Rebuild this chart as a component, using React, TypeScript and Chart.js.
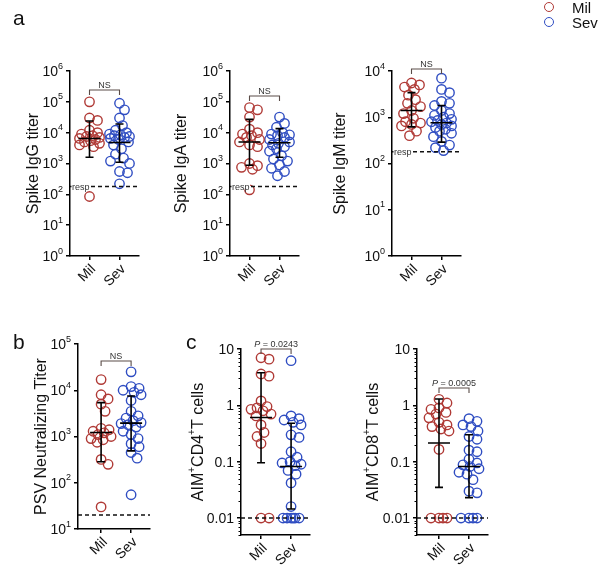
import { useEffect, useRef } from "react";
import { Chart, registerables } from "chart.js";

Chart.register(...registerables);

const FONT = '"Liberation Sans", Arial, Helvetica, sans-serif';
const RED = "#b03a36";
const BLUE = "#2f4dc2";

const groups = ["Mil", "Sev"];

// Spike IgG titer
const iggMil = [100000, 30000, 25000, 12000, 10000, 9000, 8000, 7500, 7000, 6500, 6000, 5500, 5000, 4500, 4000, 3500, 85];
const iggSev = [90000, 55000, 30000, 17000, 12000, 10000, 9000, 8500, 8000, 7500, 7000, 6500, 6000, 5000, 4000, 3000, 2000, 1500, 1200, 1000, 550, 500, 220];
const iggCenter = [6500, 4800];
const iggLow = [1600, 1100];
const iggHigh = [24000, 19000];

// Spike IgA titer
const igaMil = [65000, 55000, 32000, 13000, 10000, 9000, 8000, 7000, 6000, 5000, 4000, 3500, 1000, 850, 750, 650, 140];
const igaSev = [32000, 20000, 15000, 10000, 9000, 8500, 8000, 7000, 6000, 5000, 4500, 4000, 3500, 3000, 2500, 1800, 1400, 1200, 900, 700, 550, 400];
const igaCenter = [5000, 4700];
const igaLow = [880, 1600];
const igaHigh = [27000, 13500];

// Spike IgM titer
const igmMil = [5500, 5000, 4500, 4000, 3000, 2400, 2000, 1700, 1400, 1200, 950, 800, 750, 700, 650, 500, 400];
const igmSev = [7000, 4000, 3400, 2200, 2000, 1800, 1400, 1200, 1100, 1000, 900, 850, 800, 750, 700, 650, 600, 550, 500, 450, 380, 300, 250, 220, 190];
const igmCenter = [1400, 760];
const igmLow = [620, 290];
const igmHigh = [3400, 1800];

// PSV neutralizing titer
const psvMil = [17000, 8000, 6500, 5000, 3500, 1500, 1400, 1300, 1200, 1100, 1000, 900, 850, 750, 320, 250, 30];
const psvSev = [25000, 12000, 11000, 10000, 9000, 8000, 6000, 3500, 2800, 2500, 2200, 2000, 1900, 1800, 1600, 1300, 1100, 900, 700, 600, 450, 340, 55];
const psvCenter = [1220, 1950];
const psvLow = [285, 490];
const psvHigh = [5400, 7500];

// AIM+ CD4+ T cells
const cd4Mil = [7, 6.6, 3.6, 3.3, 1.2, 0.95, 0.9, 0.85, 0.8, 0.7, 0.65, 0.45, 0.33, 0.28, 0.21, 0.01, 0.01];
const cd4Sev = [6.2, 0.65, 0.58, 0.55, 0.5, 0.45, 0.3, 0.27, 0.15, 0.12, 0.1, 0.095, 0.09, 0.085, 0.07, 0.06, 0.042, 0.016, 0.01, 0.01, 0.01, 0.01, 0.01, 0.01];
const cd4Center = [0.61, 0.082];
const cd4Low = [0.096, 0.0145];
const cd4High = [3.8, 0.48];

// AIM+ CD8+ T cells
const cd8Mil = [1.28, 1.1, 0.9, 0.85, 0.75, 0.7, 0.6, 0.5, 0.45, 0.42, 0.38, 0.35, 0.165, 0.01, 0.01, 0.01, 0.01];
const cd8Sev = [0.58, 0.52, 0.45, 0.42, 0.35, 0.28, 0.25, 0.16, 0.15, 0.11, 0.095, 0.088, 0.082, 0.075, 0.065, 0.06, 0.048, 0.03, 0.028, 0.01, 0.01, 0.01, 0.01];
const cd8Center = [0.215, 0.082];
const cd8Low = [0.035, 0.023];
const cd8High = [1.3, 0.3];

// thresholds
const respCutoff = 180;
const psvCutoff = 20;
const cellCutoff = 0.01;

// axis ticks
const titerTicks6 = [1, 10, 100, 1000, 10000, 100000, 1000000];
const titerTicks4 = [1, 10, 100, 1000, 10000];
const psvTicks = [10, 100, 1000, 10000, 100000];
const cellTicks = [0.01, 0.1, 1, 10];
const cellTickLabels = ["0.01", "0.1", "1", "10"];

type Seg = [string, boolean];

type Panel = {
  title: Seg[];
  titleSize: number;
  titleX: number;
  mil: number[];
  sev: number[];
  center: number[];
  low: number[];
  high: number[];
  cutoff: number;
  cutoffLabel?: string;
  yMin: number;
  yMax: number;
  yTicks: number[];
  yTickLabels?: string[];
  minor: boolean;
  note: string;
  italicP: boolean;
  bracketDy: number;
  axisX: number;
  axisEnd: number;
  top: number;
  bottom: number;
  xMin: number;
  xMax: number;
};

const panels: Panel[] = [
  {
    title: [["Spike IgG titer", false]], titleSize: 16, titleX: 34,
    mil: iggMil, sev: iggSev, center: iggCenter, low: iggLow, high: iggHigh,
    cutoff: respCutoff, cutoffLabel: "resp",
    yMin: 1, yMax: 1e6, yTicks: titerTicks6, minor: false,
    note: "NS", italicP: false, bracketDy: 19,
    axisX: 70, axisEnd: 139, top: 71, bottom: 256, xMin: 0.35, xMax: 2.65,
  },
  {
    title: [["Spike IgA titer", false]], titleSize: 16, titleX: 182,
    mil: igaMil, sev: igaSev, center: igaCenter, low: igaLow, high: igaHigh,
    cutoff: respCutoff, cutoffLabel: "resp",
    yMin: 1, yMax: 1e6, yTicks: titerTicks6, minor: false,
    note: "NS", italicP: false, bracketDy: 25,
    axisX: 230, axisEnd: 299, top: 71, bottom: 256, xMin: 0.35, xMax: 2.65,
  },
  {
    title: [["Spike IgM titer", false]], titleSize: 16, titleX: 341,
    mil: igmMil, sev: igmSev, center: igmCenter, low: igmLow, high: igmHigh,
    cutoff: respCutoff, cutoffLabel: "resp",
    yMin: 1, yMax: 1e4, yTicks: titerTicks4, minor: false,
    note: "NS", italicP: false, bracketDy: -2,
    axisX: 392, axisEnd: 461, top: 71, bottom: 256, xMin: 0.35, xMax: 2.65,
  },
  {
    title: [["PSV Neutralizing Titer", false]], titleSize: 16, titleX: 42,
    mil: psvMil, sev: psvSev, center: psvCenter, low: psvLow, high: psvHigh,
    cutoff: psvCutoff,
    yMin: 10, yMax: 1e5, yTicks: psvTicks, minor: false,
    note: "NS", italicP: false, bracketDy: 17,
    axisX: 78, axisEnd: 150, top: 344, bottom: 529, xMin: 0.23, xMax: 2.63,
  },
  {
    title: [["AIM", false], ["+", true], ["CD4", false], ["+", true], ["T cells", false]],
    titleSize: 16, titleX: 199,
    mil: cd4Mil, sev: cd4Sev, center: cd4Center, low: cd4Low, high: cd4High,
    cutoff: cellCutoff,
    yMin: 0.005, yMax: 10, yTicks: cellTicks, yTickLabels: cellTickLabels, minor: true,
    note: " = 0.0243", italicP: true, bracketDy: 0,
    axisX: 241, axisEnd: 310, top: 349, bottom: 535, xMin: 0.333, xMax: 2.63,
  },
  {
    title: [["AIM", false], ["+", true], ["CD8", false], ["+", true], ["T cells", false]],
    titleSize: 16, titleX: 374,
    mil: cd8Mil, sev: cd8Sev, center: cd8Center, low: cd8Low, high: cd8High,
    cutoff: cellCutoff,
    yMin: 0.005, yMax: 10, yTicks: cellTicks, yTickLabels: cellTickLabels, minor: true,
    note: " = 0.0005", italicP: true, bracketDy: 39,
    axisX: 417, axisEnd: 488, top: 349, bottom: 535, xMin: 0.267, xMax: 2.633,
  },
];

const W = 600;
const H = 569;
const TICK = 4;

// draws a run of text pieces, superscript pieces smaller and raised
function drawRich(ctx: CanvasRenderingContext2D, segs: Seg[], size: number, align: "left" | "center" | "right") {
  const supSize = Math.round(size * 0.62);
  const widths = segs.map(([t, sup]) => {
    ctx.font = `${sup ? supSize : size}px ${FONT}`;
    return ctx.measureText(t).width;
  });
  const total = widths.reduce((a, b) => a + b, 0);
  let x = align === "left" ? 0 : align === "center" ? -total / 2 : -total;
  ctx.textAlign = "left";
  ctx.textBaseline = "middle";
  segs.forEach(([t, sup], i) => {
    ctx.font = `${sup ? supSize : size}px ${FONT}`;
    ctx.fillText(t, x, sup ? -size * 0.42 : 0);
    x += widths[i];
  });
}

// spreads points sideways so circles overlap less (beeswarm)
function swarm(values: number[], toPx: (v: number) => number, pxPerUnit: number, center: number) {
  const order = values.map((_, i) => i).sort((a, b) => values[b] - values[a]);
  const placed: { x: number; y: number }[] = [];
  const out: number[] = new Array(values.length);
  const minD = 8;
  const maxOff = 10;
  for (const i of order) {
    const py = toPx(values[i]);
    let best = 0;
    let bestScore = -1;
    for (let k = 0; k <= maxOff * 2; k++) {
      const off = k % 2 === 1 ? (k + 1) / 2 : -k / 2;
      let dmin = Infinity;
      for (const q of placed) dmin = Math.min(dmin, Math.hypot(q.x - off, q.y - py));
      if (dmin >= minD) {
        best = off;
        break;
      }
      if (dmin > bestScore) {
        bestScore = dmin;
        best = off;
      }
    }
    placed.push({ x: best, y: py });
    out[i] = center + best / pxPerUnit;
  }
  return out;
}

function decor(p: Panel) {
  return {
    id: "panelDecor",
    afterDatasetsDraw(chart: any) {
      const { ctx, chartArea } = chart;
      const xs = chart.scales.x;
      const ys = chart.scales.y;
      ctx.save();
      // cutoff line
      const ty = ys.getPixelForValue(p.cutoff);
      ctx.strokeStyle = "#111";
      ctx.lineWidth = 1.5;
      ctx.setLineDash([4, 3]);
      ctx.beginPath();
      ctx.moveTo(chartArea.left, ty);
      ctx.lineTo(chartArea.right, ty);
      ctx.stroke();
      ctx.setLineDash([]);
      if (p.cutoffLabel) {
        ctx.font = `9px ${FONT}`;
        const w = ctx.measureText(p.cutoffLabel).width;
        ctx.fillStyle = "#fff";
        ctx.fillRect(chartArea.left + 1.5, ty - 4, w + 1, 7);
        ctx.fillStyle = "#333";
        ctx.textAlign = "left";
        ctx.textBaseline = "middle";
        ctx.fillText(p.cutoffLabel, chartArea.left + 2, ty + 1);
      }
      // centre line with error bars
      ctx.strokeStyle = "#000";
      ctx.lineWidth = 1.6;
      for (let i = 0; i < 2; i++) {
        const cx = xs.getPixelForValue(i + 1);
        const yc = ys.getPixelForValue(p.center[i]);
        const yl = ys.getPixelForValue(p.low[i]);
        const yh = ys.getPixelForValue(p.high[i]);
        ctx.beginPath();
        ctx.moveTo(cx - 11, yc);
        ctx.lineTo(cx + 11, yc);
        ctx.moveTo(cx, yl);
        ctx.lineTo(cx, yh);
        ctx.moveTo(cx - 4, yl);
        ctx.lineTo(cx + 4, yl);
        ctx.moveTo(cx - 4, yh);
        ctx.lineTo(cx + 4, yh);
        ctx.stroke();
      }
      ctx.restore();
    },
    afterDraw(chart: any) {
      const { ctx, chartArea } = chart;
      const xs = chart.scales.x;
      const ys = chart.scales.y;
      ctx.save();
      ctx.fillStyle = "#111";
      // y tick labels
      p.yTicks.forEach((v, i) => {
        const y = ys.getPixelForValue(v);
        ctx.save();
        ctx.translate(chartArea.left - TICK - 3, y + 1);
        if (p.yTickLabels) {
          drawRich(ctx, [[p.yTickLabels[i], false]], 14, "right");
        } else {
          drawRich(ctx, [["10", false], [String(Math.round(Math.log10(v))), true]], 14, "right");
        }
        ctx.restore();
      });
      // minor log ticks
      if (p.minor) {
        ctx.strokeStyle = "#000";
        ctx.lineWidth = 1;
        ctx.beginPath();
        for (let d = -4; d <= 1; d++) {
          for (let k = 2; k <= 9; k++) {
            const v = k * Math.pow(10, d);
            if (v < p.yMin || v > p.yMax) continue;
            const y = Math.round(ys.getPixelForValue(v)) + 0.5;
            ctx.moveTo(chartArea.left - 2.5, y);
            ctx.lineTo(chartArea.left, y);
          }
        }
        ctx.stroke();
      }
      // category labels, slanted
      groups.forEach((g, i) => {
        const cx = xs.getPixelForValue(i + 1);
        ctx.save();
        ctx.translate(cx + 4, chartArea.bottom + 11);
        ctx.rotate(-Math.PI / 4);
        drawRich(ctx, [[g, false]], 14, "right");
        ctx.restore();
      });
      // axis title
      ctx.save();
      ctx.translate(p.titleX, (chartArea.top + chartArea.bottom) / 2);
      ctx.rotate(-Math.PI / 2);
      drawRich(ctx, p.title, p.titleSize, "center");
      ctx.restore();
      // comparison bracket
      const x1 = xs.getPixelForValue(1);
      const x2 = xs.getPixelForValue(2);
      const by = chartArea.top + p.bracketDy;
      ctx.strokeStyle = "#5a4c48";
      ctx.lineWidth = 1.1;
      ctx.beginPath();
      ctx.moveTo(x1, by + 5);
      ctx.lineTo(x1, by);
      ctx.lineTo(x2, by);
      ctx.lineTo(x2, by + 5);
      ctx.stroke();
      ctx.fillStyle = "#333";
      ctx.textBaseline = "alphabetic";
      const mid = (x1 + x2) / 2;
      if (p.italicP) {
        ctx.font = `italic 9px ${FONT}`;
        const wp = ctx.measureText("P").width;
        ctx.font = `9px ${FONT}`;
        const wr = ctx.measureText(p.note).width;
        const start = mid - (wp + wr) / 2;
        ctx.textAlign = "left";
        ctx.font = `italic 9px ${FONT}`;
        ctx.fillText("P", start, by - 2);
        ctx.font = `9px ${FONT}`;
        ctx.fillText(p.note, start + wp, by - 2);
      } else {
        ctx.font = `9px ${FONT}`;
        ctx.textAlign = "center";
        ctx.fillText(p.note, mid, by - 2);
      }
      ctx.restore();
    },
  };
}

function makeConfig(p: Panel): any {
  return {
    type: "scatter",
    data: {
      datasets: [
        { label: groups[0], data: p.mil.map((v) => ({ x: 1, y: v })), borderColor: RED },
        { label: groups[1], data: p.sev.map((v) => ({ x: 2, y: v })), borderColor: BLUE },
      ].map((d) => ({
        ...d,
        backgroundColor: "rgba(0,0,0,0)",
        pointRadius: 4.7,
        pointBorderWidth: 1.4,
        pointStyle: "circle",
        clip: false,
      })),
    },
    options: {
      responsive: false,
      animation: false,
      events: [],
      devicePixelRatio: 1,
      layout: {
        autoPadding: false,
        padding: {
          left: p.axisX - TICK,
          right: W - p.axisEnd,
          top: p.top,
          bottom: H - p.bottom - TICK,
        },
      },
      plugins: { legend: { display: false }, tooltip: { enabled: false } },
      scales: {
        x: {
          type: "linear",
          min: p.xMin,
          max: p.xMax,
          afterBuildTicks: (s: any) => {
            s.ticks = [{ value: 1 }, { value: 2 }];
          },
          ticks: { display: false },
          grid: { drawOnChartArea: false, drawTicks: true, tickLength: TICK, color: "#000", lineWidth: 1.5 },
          border: { display: true, color: "#000", width: 1.5 },
        },
        y: {
          type: "logarithmic",
          min: p.yMin,
          max: p.yMax,
          afterBuildTicks: (s: any) => {
            s.ticks = p.yTicks.map((v) => ({ value: v, major: true }));
          },
          ticks: { display: false },
          grid: { drawOnChartArea: false, drawTicks: true, tickLength: TICK, color: "#000", lineWidth: 1.5 },
          border: { display: true, color: "#000", width: 1.5 },
        },
      },
    },
    plugins: [decor(p)],
  };
}

function Panels() {
  const refs = useRef<(HTMLCanvasElement | null)[]>([]);
  useEffect(() => {
    const charts: Chart[] = [];
    panels.forEach((p, idx) => {
      const canvas = refs.current[idx];
      if (!canvas) return;
      const chart = new Chart(canvas, makeConfig(p));
      const xs: any = chart.scales.x;
      const ys: any = chart.scales.y;
      const ppu = xs.getPixelForValue(2) - xs.getPixelForValue(1);
      [p.mil, p.sev].forEach((vals, gi) => {
        const xv = swarm(vals, (v) => ys.getPixelForValue(v), ppu, gi + 1);
        chart.data.datasets[gi].data = vals.map((v, j) => ({ x: xv[j], y: v })) as any;
      });
      chart.update("none");
      charts.push(chart);
    });
    return () => charts.forEach((c) => c.destroy());
  }, []);
  return (
    <>
      {panels.map((_, i) => (
        <canvas
          key={i}
          ref={(el) => {
            refs.current[i] = el;
          }}
          width={W}
          height={H}
          style={{ position: "absolute", left: 0, top: 0, width: W, height: H }}
        />
      ))}
    </>
  );
}

const letterStyle = (left: number, top: number): any => ({
  position: "absolute",
  left,
  top,
  font: `21px ${FONT}`,
  color: "#111",
  lineHeight: "20px",
});

export default function App() {
  return (
    <div style={{ position: "absolute", left: 0, top: 0, width: W, height: H, background: "#fff", overflow: "hidden" }}>
      <Panels />
      <div style={letterStyle(13, 8)}>a</div>
      <div style={letterStyle(13, 332)}>b</div>
      <div style={letterStyle(186, 332)}>c</div>
      {groups.map((g, i) => (
        <div key={g} style={{ position: "absolute", left: 544, top: 0 + i * 15, height: 14, display: "flex", alignItems: "center" }}>
          <span
            style={{
              width: 8,
              height: 8,
              borderRadius: "50%",
              border: `1.5px solid ${i === 0 ? RED : BLUE}`,
              display: "inline-block",
            }}
          />
          <span style={{ marginLeft: 18, font: `15px ${FONT}`, color: "#111" }}>{g}</span>
        </div>
      ))}
    </div>
  );
}
